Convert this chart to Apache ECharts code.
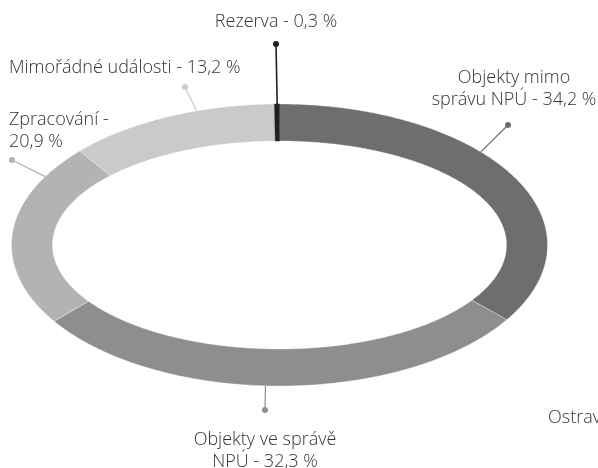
<!DOCTYPE html>
<html>
<head>
<meta charset="utf-8">
<script src="https://cdn.jsdelivr.net/npm/echarts@6/dist/echarts.min.js"></script>
<style>
  html, body { margin: 0; padding: 0; background: #fff; }
  #chart { width: 598px; height: 468px; }
</style>
</head>
<body>
<div id="chart"></div>
<script>
// data, clockwise from 12 o'clock
const names = ['Objekty mimo správu NPÚ', 'Objekty ve správě NPÚ', 'Zpracování', 'Mimořádné události', 'Rezerva']
const values = [34.2, 32.3, 20.9, 13.2, 0.3]
const labels = ['Objekty mimo\nsprávu NPÚ - 34,2 %', 'Objekty ve správě\nNPÚ - 32,3 %', 'Zpracování -\n20,9 %', 'Mimořádné události - 13,2 %', 'Rezerva - 0,3 %']
const colors = ['#6d6e70', '#8d8e90', '#b2b3b5', '#c9cacc', '#231f20']

// label layout: anchor angle on the ring, dot position, text position
const labelLayout = [
  { angle: 48.7, dot: [508, 125], text: [514, 89], align: 'center' },
  { angle: 183, dot: [265, 410], text: [265, 451], align: 'center' },
  { angle: 299, dot: [12, 160], text: [9, 131], align: 'left' },
  { angle: 342, dot: [185, 87], text: [9, 68], align: 'left' },
  { angle: 359.5, dot: [276, 44], text: [276, 22], align: 'center' }
]

const ring = { cx: 279.5, cy: 245, rx: 268, ry: 141, irx: 227, iry: 104 }
const FONT = '300 18px "Open Sans", "Noto Sans", sans-serif'

const total = values.reduce((a, b) => a + b, 0)
let acc = 0
const sliceData = values.map((v, i) => {
  const start = acc / total * 360
  acc += v
  return { name: names[i], value: [start, acc / total * 360, v] }
})

const pt = (deg, rx, ry) => {
  const t = deg * Math.PI / 180
  return [ring.cx + rx * Math.sin(t), ring.cy - ry * Math.cos(t)]
}

const renderSlice = (params, api) => {
  const i = params.dataIndex
  const a = api.value(0)
  const b = api.value(1)
  const pts = []
  const steps = Math.max(2, Math.ceil((b - a) * 2))
  for (let k = 0; k <= steps; k++) pts.push(pt(a + (b - a) * k / steps, ring.rx, ring.ry))
  for (let k = steps; k >= 0; k--) pts.push(pt(a + (b - a) * k / steps, ring.irx, ring.iry))

  const lay = labelLayout[i]
  const anchor = pt(lay.angle, ring.rx, ring.ry)
  const color = colors[i]
  return {
    type: 'group',
    children: [
      {
        type: 'polygon',
        shape: { points: pts },
        style: { fill: color, stroke: i === 4 ? color : 'rgba(255,255,255,0.6)', lineWidth: 0.5 }
      },
      {
        type: 'polyline',
        shape: { points: [anchor, lay.dot] },
        style: { stroke: color, lineWidth: i === 4 ? 1.6 : 1.2, fill: null }
      },
      {
        type: 'circle',
        shape: { cx: lay.dot[0], cy: lay.dot[1], r: 3 },
        style: { fill: color }
      },
      {
        type: 'text',
        style: {
          text: labels[i],
          x: lay.text[0],
          y: lay.text[1],
          align: lay.align,
          verticalAlign: 'middle',
          font: FONT,
          lineHeight: 22,
          fill: '#333333'
        }
      }
    ]
  }
}

const chart = echarts.init(document.getElementById('chart'))
chart.setOption({
  animation: false,
  backgroundColor: '#ffffff',
  graphic: [{
    type: 'text',
    left: 548,
    top: 409,
    style: { text: 'Ostrava', font: FONT, fill: '#333333' }
  }],
  series: [{
    type: 'custom',
    coordinateSystem: 'none',
    renderItem: renderSlice,
    data: sliceData
  }]
})
</script>
</body>
</html>
